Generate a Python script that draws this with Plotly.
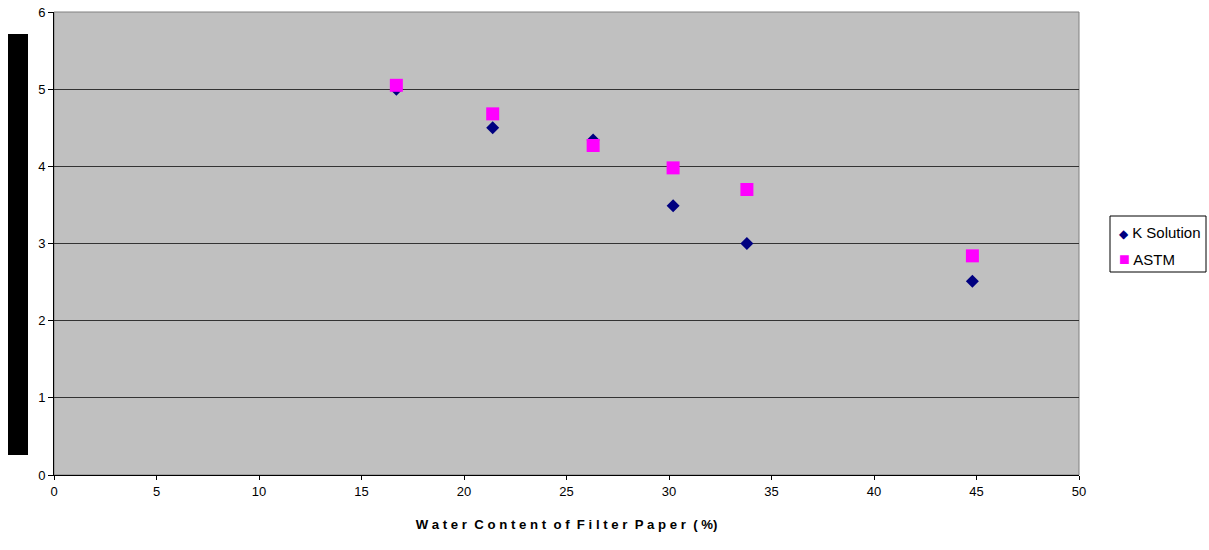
import plotly.graph_objects as go

water_content = [16.7, 21.4, 26.3, 30.2, 33.8, 44.8]
k_solution = [5.0, 4.5, 4.34, 3.49, 3.0, 2.51]
astm = [5.05, 4.68, 4.27, 3.98, 3.70, 2.84]
series_names = ["K Solution", "ASTM"]
series_colors = ["#000080", "#FF00FF"]
legend_glyphs = ["◆", "■"]

fig = go.Figure()
fig.add_trace(go.Scatter(
    x=water_content, y=k_solution, mode="markers", name=series_names[0],
    marker=dict(symbol="diamond", size=10, color=series_colors[0], line=dict(width=0)),
))
fig.add_trace(go.Scatter(
    x=water_content, y=astm, mode="markers", name=series_names[1],
    marker=dict(symbol="square", size=13, color=series_colors[1], line=dict(width=0)),
))

W = 1025.0
H = 463.0
def px(xp):
    return (xp - 54) / W
def py(yp):
    return (475 - yp) / H

annotations = []
for i, (name, col, g) in enumerate(zip(series_names, series_colors, legend_glyphs)):
    size = 12 if i == 0 else 18
    annotations.append(dict(
        xref="paper", yref="paper", x=px(1117), y=py(232 + 27 * i),
        xanchor="left", yanchor="middle", showarrow=False, align="left",
        text=f'<span style="color:{col};font-size:{size}px">{g}</span> {name}',
        font=dict(size=15, color="black", family="Arial, Liberation Sans, sans-serif"),
    ))

fig.update_layout(
    width=1209, height=550,
    margin=dict(l=54, r=130, t=12, b=75, autoexpand=False),
    paper_bgcolor="white",
    plot_bgcolor="#C0C0C0",
    font=dict(family="Arial, Liberation Sans, sans-serif", size=13, color="black"),
    showlegend=False,
    xaxis=dict(
        range=[0, 50], dtick=5, showgrid=False, zeroline=False,
        showline=True, linecolor="black", linewidth=1,
        ticks="outside", ticklen=4, tickcolor="black",
        mirror=False, automargin=False,
        title=dict(text="<b>W a t e r  C o n t e n t  o f  F i l t e r  P a p e r  ( %)</b>",
                   font=dict(size=13.2), standoff=22),
    ),
    yaxis=dict(
        range=[0, 6], dtick=1, showgrid=True, gridcolor="#333333", gridwidth=1,
        zeroline=False, showline=True, linecolor="black", linewidth=1,
        ticks="outside", ticklen=5, tickcolor="black", automargin=False,
    ),
    annotations=annotations,
    shapes=[
        dict(type="rect", xref="paper", yref="paper", x0=0, x1=1, y0=0, y1=1,
             line=dict(color="#808080", width=1), fillcolor="rgba(0,0,0,0)", layer="below"),
        dict(type="rect", xref="paper", yref="paper",
             x0=-46 / W, x1=-26 / W, y0=20 / H, y1=441 / H,
             line=dict(width=0), fillcolor="black"),
        dict(type="rect", xref="paper", yref="paper",
             x0=px(1110), x1=px(1206), y0=py(272), y1=py(216),
             line=dict(color="black", width=1), fillcolor="white"),
    ],
)

fig.write_html("out.html")
